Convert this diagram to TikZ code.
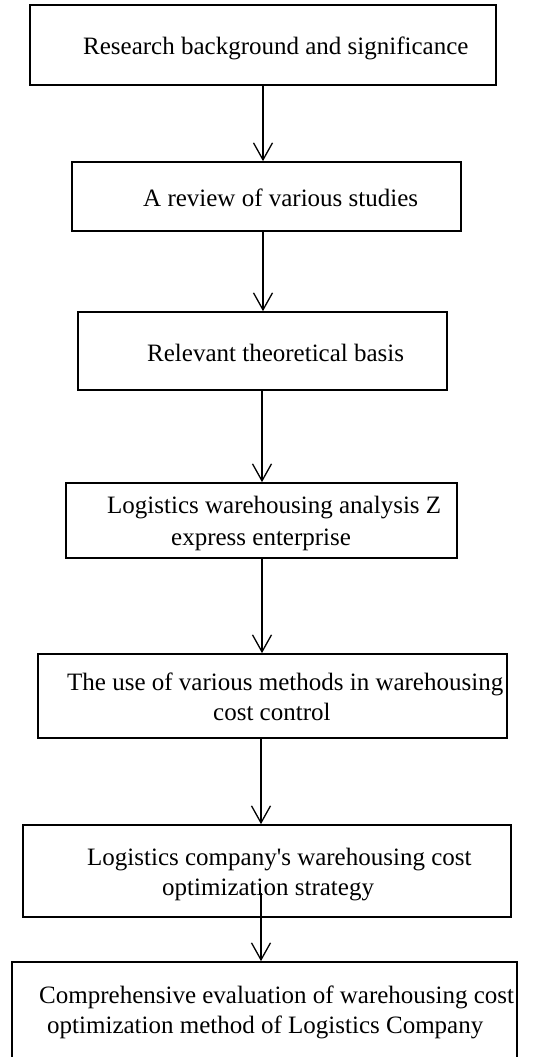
\documentclass[tikz,border=0pt]{standalone}
\usepackage{fontspec}
\newfontfamily\diagfont{Liberation Serif}
\usetikzlibrary{arrows.meta}
\begin{document}
\begin{tikzpicture}[x=1pt,y=-1pt,
  box/.style={draw, line width=1.7pt, inner sep=0pt, rectangle},
  txt/.style={inner sep=0pt, anchor=base west, font=\diagfont\fontsize{25}{31}\selectfont},
  arr/.style={line width=1.3pt, -{Straight Barb[length=17pt,width=19pt]}}]
\useasboundingbox (0,0) rectangle (558,1057);
\clip (0,0) rectangle (558,1057);
\fill[white] (0,0) rectangle (558,1057);
% boxes
\node[box, minimum width=466pt, minimum height=80pt] (b1) at (263,45) {};
\node[box, minimum width=389pt, minimum height=69pt] (b2) at (266.5,196.5) {};
\node[box, minimum width=369pt, minimum height=78pt] (b3) at (262.5,351) {};
\node[box, minimum width=391pt, minimum height=75pt] (b4) at (261.5,520.5) {};
\node[box, minimum width=469pt, minimum height=84pt] (b5) at (272.5,696) {};
\node[box, minimum width=488pt, minimum height=92pt] (b6) at (267,871) {};
\node[box, minimum width=505pt, minimum height=118pt] (b7) at (264.5,1021) {};
% texts
\node[txt] (t1) at (83,55) {Research background and significance};
\node[txt] (t2) at (143,206) {A review of various studies};
\node[txt] (t3) at (147,361) {Relevant theoretical basis};
\node[txt] (t4a) at (107,513) {Logistics warehousing analysis Z};
\node[txt] (t4b) at (171,545) {express enterprise};
\node[txt] (t5a) at (67,690) {The use of various methods in warehousing};
\node[txt] (t5b) at (213,720) {cost control};
\node[txt] (t6a) at (87,865) {Logistics company's warehousing cost};
\node[txt] (t6b) at (162,895) {optimization strategy};
\node[txt] (t7a) at (39,1003) {Comprehensive evaluation of warehousing cost};
\node[txt] (t7b) at (47,1033) {optimization method of Logistics Company};
% connector x positions
\coordinate (ax1) at (263,0);
\coordinate (ax2) at (263,0);
\coordinate (ax3) at (262,0);
\coordinate (ax4) at (262,0);
\coordinate (ax5) at (261,0);
\coordinate (s6) at (261,893);
% connectors
\draw[arr] (b1.south -| ax1) -- (b2.north -| ax1);
\draw[arr] (b2.south -| ax2) -- (b3.north -| ax2);
\draw[arr] (b3.south -| ax3) -- (b4.north -| ax3);
\draw[arr] (b4.south -| ax4) -- (b5.north -| ax4);
\draw[arr] (b5.south -| ax5) -- (b6.north -| ax5);
\draw[arr] (s6) -- (b7.north -| s6);
\end{tikzpicture}
\end{document}
